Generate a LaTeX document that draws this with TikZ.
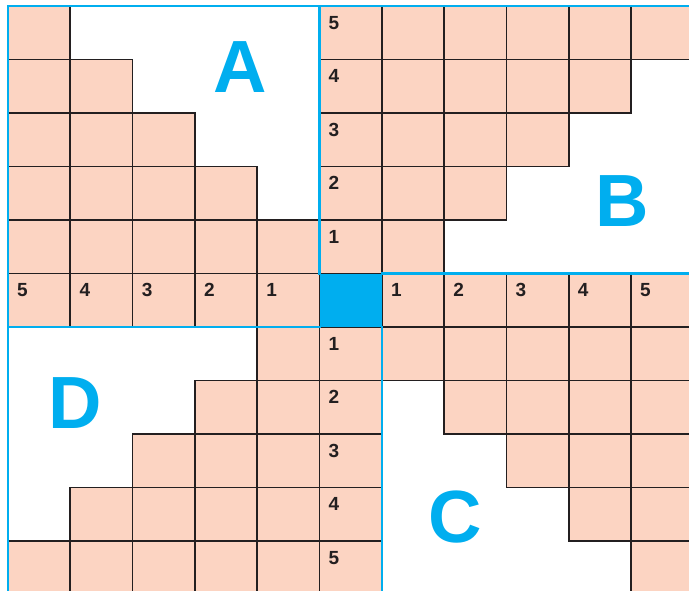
\documentclass[tikz,border=0pt]{standalone}
\usepackage{fontspec}
\setmainfont{Liberation Sans}
\definecolor{cellpink}{HTML}{FCD4C2}
\definecolor{gridblue}{HTML}{00AEEF}
\definecolor{inkdark}{HTML}{231F20}
\tikzset{
  cellbox/.style={fill=cellpink, draw=inkdark, line width=1.7pt},
  bluerule/.style={draw=gridblue, line width=2.6pt, line cap=rect},
  numlabel/.style={anchor=north west, inner sep=0pt, font=\fontsize{19}{19}\selectfont\bfseries, text=inkdark},
  biglabel/.style={inner sep=0pt, font=\fontsize{74}{74}\selectfont\bfseries, text=gridblue},
}
\begin{document}
\begin{tikzpicture}[x=62.3pt,y=-53.5pt]
\path[use as bounding box] (-0.12841,-0.11215) rectangle (10.93098,10.93458);
\clip (-0.12841,-0.11215) rectangle (10.93098,10.93458);
% region A staircase
\foreach \j in {0,...,4}{
  \foreach \i in {0,...,\j}{ \path[cellbox] (\i,\j) rectangle ++(1,1); }
}
% region B staircase
\foreach \j in {0,...,4}{
  \pgfmathtruncatemacro\last{10-\j}
  \foreach \i in {6,...,\last}{ \path[cellbox] (\i,\j) rectangle ++(1,1); }
}
% region C staircase
\foreach \j in {6,...,10}{
  \foreach \i in {\j,...,10}{ \path[cellbox] (\i,\j) rectangle ++(1,1); }
}
% region D staircase
\foreach \j in {6,...,10}{
  \pgfmathtruncatemacro\first{10-\j}
  \foreach \i in {\first,...,4}{ \path[cellbox] (\i,\j) rectangle ++(1,1); }
}
% numbered row and column
\foreach \i in {0,...,4}{
  \path[cellbox] (\i,5) rectangle ++(1,1);
  \pgfmathtruncatemacro\n{5-\i}
  \node[numlabel] (rowL\i) at ([xshift=9pt,yshift=-10pt]\i,5) {\n};
}
\foreach \i in {6,...,10}{
  \path[cellbox] (\i,5) rectangle ++(1,1);
  \pgfmathtruncatemacro\n{\i-5}
  \node[numlabel] (rowR\i) at ([xshift=9pt,yshift=-10pt]\i,5) {\n};
}
\foreach \j in {0,...,4}{
  \path[cellbox] (5,\j) rectangle ++(1,1);
  \pgfmathtruncatemacro\n{5-\j}
  \node[numlabel] (colT\j) at ([xshift=9pt,yshift=-10pt]5,\j) {\n};
}
\foreach \j in {6,...,10}{
  \path[cellbox] (5,\j) rectangle ++(1,1);
  \pgfmathtruncatemacro\n{\j-5}
  \node[numlabel] (colB\j) at ([xshift=9pt,yshift=-10pt]5,\j) {\n};
}
% centre square
\fill[gridblue] (5,5) rectangle (6,6);
% blue region borders
\draw[bluerule] (0,11) -- (0,0) -- (11,0);
\draw[bluerule] (5,0) -- (5,5);
\draw[bluerule] (6,5) -- (11,5);
\draw[bluerule] (6,6) -- (6,11);
\draw[bluerule] (0,6) -- (5,6);
% region letters
\node[biglabel] (lA) at (3.724,1.150) {A};
\node[biglabel] (lB) at (9.855,3.645) {B};
\node[biglabel] (lC) at (7.175,9.551) {C};
\node[biglabel] (lD) at (1.075,7.430) {D};
\end{tikzpicture}
\end{document}
